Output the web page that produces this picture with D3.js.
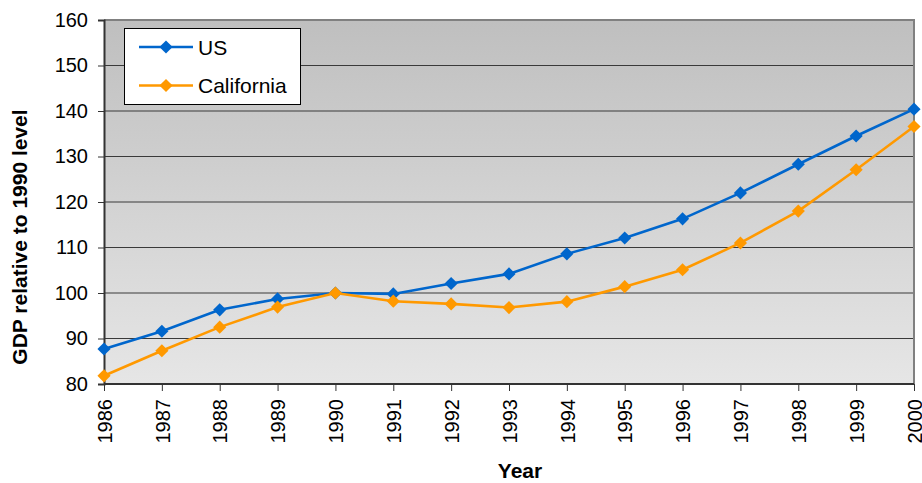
<!DOCTYPE html>
<html>
<head>
<meta charset="utf-8">
<script src="https://cdn.jsdelivr.net/npm/d3@7"></script>
<style>
  html, body { margin: 0; padding: 0; background: #fff; }
  svg { display: block; font-family: "Liberation Sans", Arial, sans-serif; }
</style>
</head>
<body>
<svg id="chart" width="922" height="483"></svg>
<script>
// GDP index (1990 = 100)
const years = [1986, 1987, 1988, 1989, 1990, 1991, 1992, 1993, 1994, 1995, 1996, 1997, 1998, 1999, 2000];
const usValues = [87.7, 91.6, 96.3, 98.7, 100, 99.8, 102.1, 104.2, 108.6, 112.1, 116.3, 122.0, 128.3, 134.5, 140.4];
const californiaValues = [81.8, 87.3, 92.5, 96.9, 100, 98.2, 97.6, 96.8, 98.1, 101.4, 105.1, 111.0, 118.0, 127.1, 136.6];
const yTicks = [80, 90, 100, 110, 120, 130, 140, 150, 160];
const seriesNames = ["US", "California"];
const seriesColors = ["#0066cc", "#ff9900"];

const FONT = "Liberation Sans, Arial, sans-serif";
const svg = d3.select("#chart");
const plotL = 104, plotR = 914, plotT = 20, plotB = 384;

const x = d3.scalePoint().domain(years).range([plotL, plotR]);
const y = d3.scaleLinear().domain([80, 160]).range([plotB, plotT]);

// plot background gradient
const defs = svg.append("defs");
const grad = defs.append("linearGradient").attr("id", "bg").attr("x1", 0).attr("y1", 0).attr("x2", 0).attr("y2", 1);
grad.append("stop").attr("offset", "0%").attr("stop-color", "#bfbfbf");
grad.append("stop").attr("offset", "100%").attr("stop-color", "#e6e6e6");

svg.append("rect")
  .attr("x", plotL).attr("y", plotT)
  .attr("width", plotR - plotL).attr("height", plotB - plotT)
  .attr("fill", "url(#bg)");

// horizontal gridlines
svg.append("g").selectAll("line")
  .data(yTicks.filter(d => d > 80 && d < 160))
  .join("line")
  .attr("x1", plotL).attr("x2", plotR)
  .attr("y1", d => y(d)).attr("y2", d => y(d))
  .attr("stroke", "#3a3a3a").attr("stroke-width", 1.2);

// top and right frame
svg.append("path")
  .attr("d", `M${plotL},${plotT}H${plotR}V${plotB}`)
  .attr("fill", "none").attr("stroke", "#808080").attr("stroke-width", 2);

// y axis
const yAxis = svg.append("g")
  .attr("transform", `translate(${plotL},0)`)
  .call(d3.axisLeft(y).tickValues(yTicks).tickSize(6).tickPadding(10).tickFormat(d3.format("d")));
yAxis.select(".domain").attr("stroke", "#333").attr("stroke-width", 2);
yAxis.selectAll(".tick line").attr("stroke", "#333");
yAxis.selectAll("text").attr("font-size", 20).attr("fill", "#000").attr("font-family", FONT);

// x axis
const xAxis = svg.append("g")
  .attr("transform", `translate(0,${plotB})`)
  .call(d3.axisBottom(x).tickSize(7).tickSizeOuter(0));
xAxis.select(".domain").attr("stroke", "#333").attr("stroke-width", 2)
  .attr("d", `M${plotL},0H${plotR}`);
xAxis.selectAll(".tick line").attr("stroke", "#333");
xAxis.selectAll("text")
  .attr("font-size", 20).attr("fill", "#000").attr("font-family", FONT)
  .attr("transform", "rotate(-90)")
  .attr("text-anchor", "end")
  .attr("x", -15).attr("y", 0).attr("dy", "0.36em");

// series
const diamond = d3.symbol().type(d3.symbolDiamond2).size(110);
const line = d3.line().x((d, i) => x(years[i])).y(d => y(d));
[usValues, californiaValues].forEach((vals, k) => {
  const g = svg.append("g");
  g.append("path").datum(vals)
    .attr("d", line).attr("fill", "none")
    .attr("stroke", seriesColors[k]).attr("stroke-width", 2.6);
  g.selectAll("path.m").data(vals).join("path").attr("class", "m")
    .attr("d", diamond)
    .attr("transform", (d, i) => `translate(${x(years[i])},${y(d)})`)
    .attr("fill", seriesColors[k]);
});

// legend
const lg = svg.append("g");
lg.append("rect").attr("x", 124.5).attr("y", 28.5).attr("width", 176).attr("height", 76)
  .attr("fill", "#fff").attr("stroke", "#000").attr("stroke-width", 1);
seriesNames.forEach((name, k) => {
  const cy = 47 + k * 38.5;
  lg.append("line").attr("x1", 139).attr("x2", 193).attr("y1", cy).attr("y2", cy)
    .attr("stroke", seriesColors[k]).attr("stroke-width", 2.6);
  lg.append("path").attr("d", diamond).attr("transform", `translate(166,${cy})`).attr("fill", seriesColors[k]);
  lg.append("text").attr("x", 198).attr("y", cy).attr("dy", "0.36em")
    .attr("font-size", 21).attr("fill", "#000").text(name);
});

// axis titles
svg.append("text")
  .attr("transform", `translate(27,237) rotate(-90)`)
  .attr("text-anchor", "middle").attr("font-size", 21).attr("font-weight", "bold")
  .text("GDP relative to 1990 level");
svg.append("text")
  .attr("x", 520).attr("y", 478)
  .attr("text-anchor", "middle").attr("font-size", 21).attr("font-weight", "bold")
  .text("Year");
</script>
</body>
</html>
